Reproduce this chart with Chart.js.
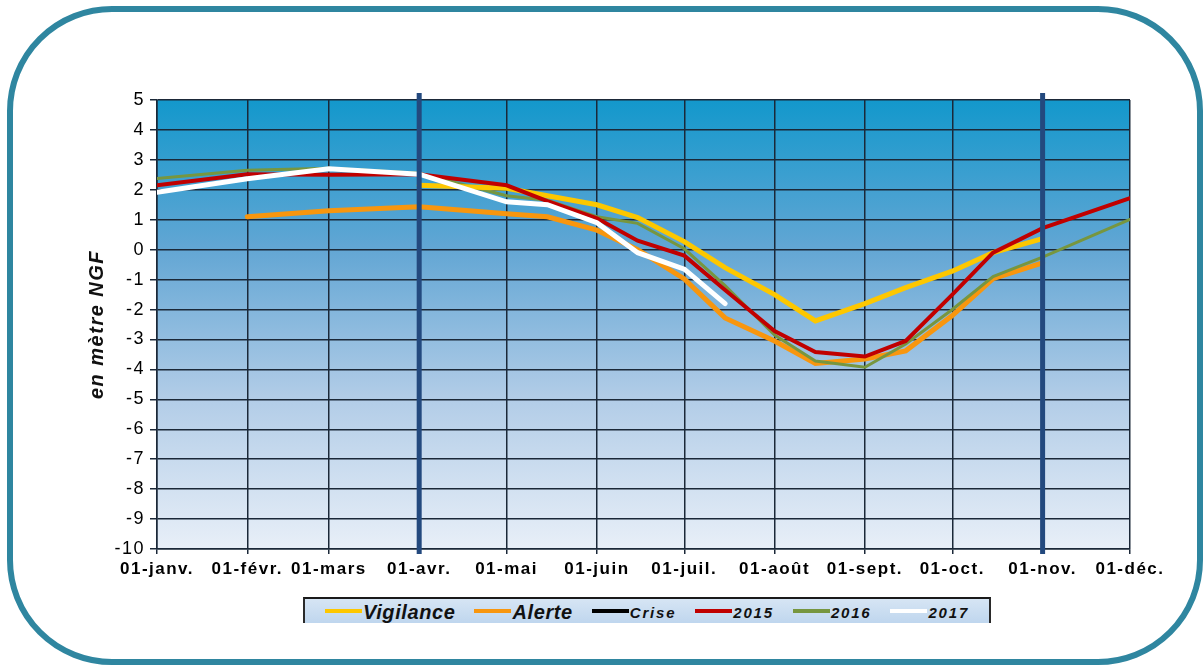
<!DOCTYPE html>
<html>
<head>
<meta charset="utf-8">
<script src="https://cdn.jsdelivr.net/npm/chart.js@4.4.1/dist/chart.umd.min.js"></script>
<style>
  html, body { margin: 0; padding: 0; background: #fff; }
  body { width: 1204px; height: 665px; position: relative; overflow: hidden; }
  #c { position: absolute; left: 0; top: 0; }
  #frame {
    position: absolute; left: 7px; top: 6px; width: 1196px; height: 659px;
    box-sizing: border-box; border: 6px solid #2f86a0; border-radius: 105px;
    pointer-events: none;
  }
  #legend {
    position: absolute; left: 303px; top: 597px; width: 688px; height: 26px;
    box-sizing: border-box; overflow: hidden;
    border-top: 2px solid #1a1a1a; border-left: 2px solid #2a2a2a; border-right: 2px solid #2a2a2a;
    background: linear-gradient(#d6e5f4, #bfd6ee);
    display: flex; align-items: flex-start; padding-left: 20px;
    font-family: "Liberation Sans", Arial, sans-serif; font-weight: bold; font-style: italic; color: #111;
  }
  .item { display: flex; align-items: center; height: 26px; margin-right: 19px; white-space: nowrap; }
  .item .sw { display: inline-block; width: 37px; height: 4px; margin-right: 1px; margin-top: -3px; }
  .big { font-size: 20px; letter-spacing: 0.6px; }
  .small { font-size: 15px; letter-spacing: 1.8px; }
</style>
</head>
<body>
<canvas id="c" width="1204" height="665"></canvas>
<div id="legend"></div>
<div id="frame"></div>
<script>
// x axis: day of year (01-janv. = 0)
var monthDays = [0, 31, 59, 90, 120, 151, 181, 212, 243, 273, 304, 334];
var monthLabels = ["01-janv.", "01-févr.", "01-mars", "01-avr.", "01-mai", "01-juin",
                   "01-juil.", "01-août", "01-sept.", "01-oct.", "01-nov.", "01-déc."];
var yTicks = [5, 4, 3, 2, 1, 0, -1, -2, -3, -4, -5, -6, -7, -8, -9, -10];

// measurement dates (1st and 15th of the month)
var obsDays = [0, 31, 59, 90, 120, 134, 151, 165, 181, 195, 212, 226, 243, 257, 273, 287, 304, 334];

var vigilance = [null, null, null, 2.15, 2.05, 1.8, 1.5, 1.07, 0.27, -0.6, -1.5, -2.38, -1.8, -1.27, -0.72, -0.1, 0.37, null];
var alerte    = [null, 1.1, 1.3, 1.43, 1.2, 1.1, 0.65, 0.0, -0.98, -2.28, -3.05, -3.8, -3.65, -3.38, -2.2, -0.97, -0.44, null];
var crise     = [null, null, null, null, null, null, null, null, null, null, null, null, null, null, null, null, null, null];
var y2015     = [2.15, 2.52, 2.5, 2.52, 2.15, 1.62, 1.05, 0.3, -0.2, -1.35, -2.72, -3.42, -3.57, -3.05, -1.5, -0.1, 0.72, 1.72];
var y2016     = [2.38, 2.65, 2.72, 2.55, 1.8, 1.65, 1.1, 0.88, 0.03, -1.2, -2.85, -3.72, -3.93, -3.15, -2.0, -0.9, -0.25, 1.01];
var y2017     = [1.92, 2.37, 2.7, 2.52, 1.6, 1.5, 0.9, -0.1, -0.65, -1.8, null, null, null, null, null, null, null, null];

var seriesNames = ["Vigilance", "Alerte", "Crise", "2015", "2016", "2017"];
var markerDays = [90, 304]; // 01-avr. and 01-nov.

function pts(values) {
  var out = [];
  for (var i = 0; i < obsDays.length; i++) {
    if (values[i] !== null) out.push({ x: obsDays[i], y: values[i] });
  }
  return out;
}

var styles = [
  { color: "#fdc700", width: 5, order: 2, big: true },
  { color: "#f8960e", width: 5, order: 4, big: true },
  { color: "#000000", width: 3, order: 5, big: false },
  { color: "#c00000", width: 4, order: 1, big: false },
  { color: "#77963f", width: 3, order: 3, big: false },
  { color: "#ffffff", width: 5, order: 0, big: false }
];
var allValues = [vigilance, alerte, crise, y2015, y2016, y2017];

var datasets = seriesNames.map(function (name, i) {
  return {
    label: name,
    data: pts(allValues[i]),
    borderColor: styles[i].color,
    borderWidth: styles[i].width,
    order: styles[i].order,
    pointRadius: 0,
    tension: 0,
    borderCapStyle: "round",
    fill: false
  };
});

// gradient plot background
var plotBg = {
  id: "plotBg",
  beforeDraw: function (chart) {
    var a = chart.chartArea, ctx = chart.ctx;
    var g = ctx.createLinearGradient(0, a.top, 0, a.bottom);
    g.addColorStop(0, "#1398cc");
    g.addColorStop(0.33, "#62a6d4");
    g.addColorStop(0.66, "#b1cce7");
    g.addColorStop(1, "#e8eff8");
    ctx.save();
    ctx.fillStyle = g;
    ctx.fillRect(a.left, a.top, a.right - a.left, a.bottom - a.top);
    ctx.restore();
    ctx.letterSpacing = "1.5px";
  }
};

// thick blue verticals at 01-avr. and 01-nov.
var markers = {
  id: "markers",
  afterDatasetsDraw: function (chart) {
    var ctx = chart.ctx, xs = chart.scales.x, a = chart.chartArea;
    ctx.save();
    ctx.strokeStyle = "#23497e";
    ctx.lineWidth = 5;
    markerDays.forEach(function (d) {
      var px = xs.getPixelForValue(d);
      ctx.beginPath();
      ctx.moveTo(px, a.top - 7);
      ctx.lineTo(px, a.bottom + 5);
      ctx.stroke();
    });
    ctx.restore();
  }
};

new Chart(document.getElementById("c").getContext("2d"), {
  type: "line",
  data: { datasets: datasets },
  plugins: [plotBg, markers],
  options: {
    responsive: false,
    animation: false,
    layout: { padding: { left: 85, top: 100, right: 74, bottom: 76 } },
    plugins: { legend: { display: false }, tooltip: { enabled: false } },
    scales: {
      x: {
        type: "linear",
        min: monthDays[0],
        max: monthDays[monthDays.length - 1],
        afterBuildTicks: function (s) { s.ticks = monthDays.map(function (d) { return { value: d }; }); },
        afterFit: function (s) { s.height = 40; },
        ticks: {
          autoSkip: false, maxRotation: 0, padding: 5, color: "#000",
          font: { family: "'Liberation Sans', Arial, sans-serif", size: 17, weight: "bold" },
          callback: function (v) { return monthLabels[monthDays.indexOf(v)]; }
        },
        grid: { color: "#1b2838", lineWidth: 1.5, tickLength: 5 },
        border: { color: "#1b2838", width: 1.5 }
      },
      y: {
        min: yTicks[yTicks.length - 1],
        max: yTicks[0],
        afterBuildTicks: function (s) { s.ticks = yTicks.map(function (v) { return { value: v }; }); },
        afterFit: function (s) { s.width = 72; },
        ticks: {
          padding: 5, color: "#000",
          font: { family: "'Liberation Sans', Arial, sans-serif", size: 18 }
        },
        grid: { color: "#1b2838", lineWidth: 1.5, tickLength: 7 },
        border: { color: "#1b2838", width: 1.5 },
        title: {
          display: true, text: "en mètre NGF", color: "#111", padding: 0,
          font: { family: "'Liberation Sans', Arial, sans-serif", size: 20, weight: "bold", style: "italic" }
        }
      }
    }
  }
});

// legend
var legend = document.getElementById("legend");
seriesNames.forEach(function (name, i) {
  var item = document.createElement("span");
  item.className = "item " + (styles[i].big ? "big" : "small");
  var sw = document.createElement("span");
  sw.className = "sw";
  sw.style.background = styles[i].color;
  item.appendChild(sw);
  item.appendChild(document.createTextNode(name));
  legend.appendChild(item);
});
</script>
</body>
</html>
